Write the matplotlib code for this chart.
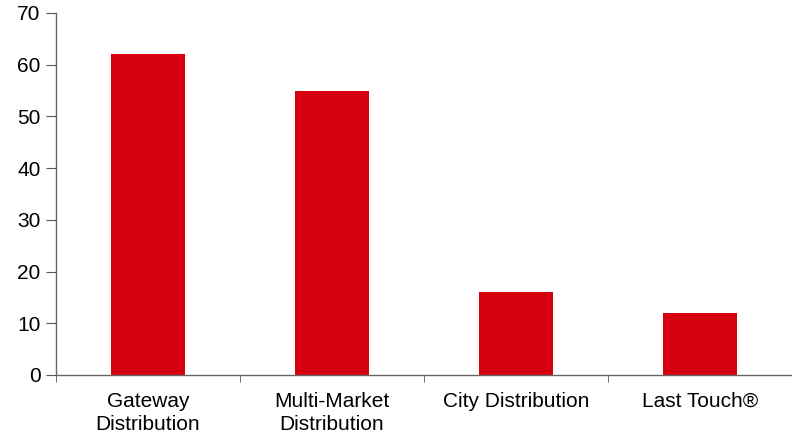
import numpy as np
import matplotlib.pyplot as plt

categorias = ["Gateway\nDistribution", "Multi-Market\nDistribution", "City Distribution", "Last Touch®"]
valores = [62, 55, 16, 12]

plt.rcParams['font.family'] = ['Liberation Sans', 'DejaVu Sans']

fig = plt.figure(figsize=(7.92, 4.34), dpi=100)
ax = fig.add_axes([56 / 792, 59 / 434, 736 / 792, 362 / 434])

x = np.arange(len(categorias))
ax.bar(x, valores, width=0.4, color='#d7000f')

ax.set_xlim(-0.5, len(categorias) - 0.5)
ax.set_ylim(0, 70)
ax.set_yticks(np.arange(0, 71, 10))

# etiquetas centradas, ticks entre categorias
ax.set_xticks(x)
ax.set_xticklabels(categorias, fontsize=15, linespacing=1.3)
ax.tick_params(axis='x', length=0, pad=12)
ax.set_xticks(np.arange(-0.5, len(categorias), 1), minor=True)
ax.tick_params(axis='x', which='minor', length=5, color='#555555', direction='out')

ax.tick_params(axis='y', labelsize=15, length=7, color='#555555', pad=4)

for lado in ['top', 'right']:
    ax.spines[lado].set_visible(False)
for lado in ['left', 'bottom']:
    ax.spines[lado].set_color('#666666')
    ax.spines[lado].set_linewidth(1.0)

plt.savefig('out.png', dpi=100)
